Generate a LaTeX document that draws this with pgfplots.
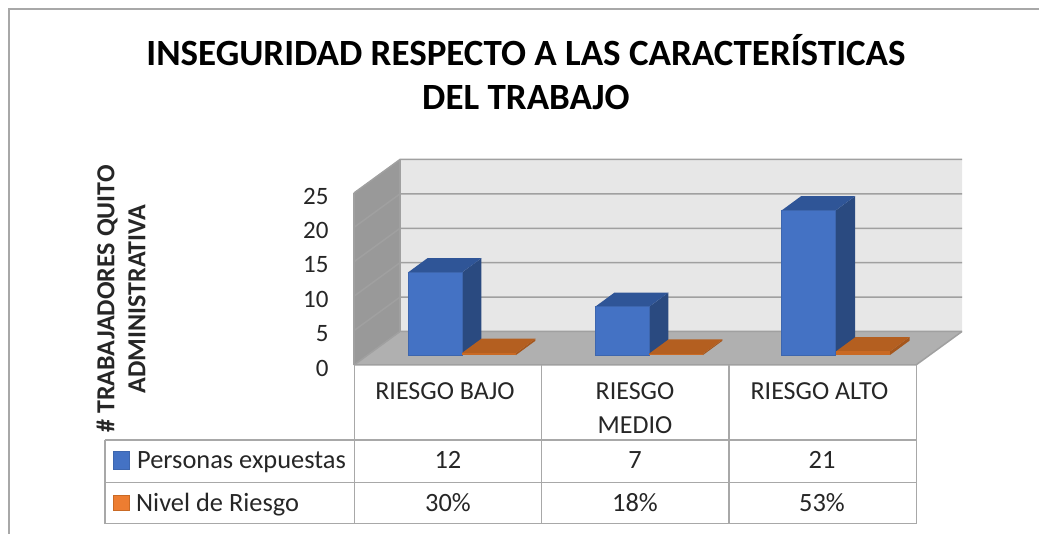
\documentclass[border=0pt]{standalone}
\usepackage{pgfplots}
\pgfplotsset{compat=1.18}
\usepackage{fontspec}
\setmainfont{Carlito}
\definecolor{wall}{HTML}{E7E7E7}
\definecolor{leftwall}{HTML}{999999}
\definecolor{floorc}{HTML}{B0B0B0}
\definecolor{gridc}{HTML}{A0A0A0}
\definecolor{bluef}{HTML}{4472C4}
\definecolor{bluee}{HTML}{3D66AE}
\definecolor{bluet}{HTML}{2F5597}
\definecolor{blues}{HTML}{2A4A80}
\definecolor{orf}{HTML}{C96A25}
\definecolor{ort}{HTML}{B45F20}
\definecolor{ors}{HTML}{A5561C}
\definecolor{orkey}{HTML}{ED7D31}
\definecolor{tline}{HTML}{A8A8A8}
\definecolor{txt}{HTML}{262626}
\newcommand\fs[1]{\fontsize{#1pt}{#1pt}\selectfont}
\begin{document}
\begin{tikzpicture}[x=1pt,y=1pt]
\useasboundingbox (-354,-169) rectangle (685,365);
\begin{axis}[
  at={(0,0)},anchor=south west,
  scale only axis,width=562pt,height=172pt,
  xmin=354,xmax=916,ymin=0,ymax=25,clip=false,
  axis line style={draw=none},major tick length=0pt,
  axis x line*=bottom,axis y line*=left,
  xtick={445,635,819.5},
  xticklabels={RIESGO BAJO,RIESGO\\[8pt]MEDIO,RIESGO ALTO},
  xticklabel style={align=center,font=\fs{26}\color{txt},anchor=north,yshift=-14pt},
  ytick={0,5,10,15,20,25},
  yticklabel style={font=\fs{25}\color{txt},anchor=east,xshift=-22pt,yshift=-3pt},
  /pgf/number format/assume math mode=true,
  title={INSEGURIDAD RESPECTO A LAS CARACTERÍSTICAS\\[7pt]DEL TRABAJO},
  title style={at={(axis cs:526,35.65)},anchor=south,align=center,font=\fs{37}\bfseries\color{black}},
  ylabel={\# TRABAJADORES QUITO\\[5pt]ADMINISTRATIVA},
  ylabel style={at={(axis cs:121,9.6)},anchor=center,align=center,font=\fs{26}\bfseries\color{txt}},
]
% outer frame
\draw[color=tline,line width=1.2pt] (axis cs:9,-24.56) -- (axis cs:9,51.74) -- (axis cs:1039,51.74);
% walls
\addplot[fill=wall,draw=none] coordinates {(400,4.87)(962,4.87)(962,29.87)(400,29.87)(400,4.87)};
\addplot[fill=leftwall,draw=none] coordinates {(354,0)(400,4.87)(400,29.87)(354,25)(354,0)};
\addplot[fill=floorc,draw=none] coordinates {(354,0)(916,0)(962,4.87)(400,4.87)(354,0)};
% gridlines
\addplot[color=gridc,line width=1.5pt] coordinates {(354,0)(400,4.87)(962,4.87)};
\addplot[color=gridc,line width=1.5pt] coordinates {(354,5)(400,9.87)(962,9.87)};
\addplot[color=gridc,line width=1.5pt] coordinates {(354,10)(400,14.87)(962,14.87)};
\addplot[color=gridc,line width=1.5pt] coordinates {(354,15)(400,19.87)(962,19.87)};
\addplot[color=gridc,line width=1.5pt] coordinates {(354,20)(400,24.87)(962,24.87)};
\addplot[color=gridc,line width=1.5pt] coordinates {(354,25)(400,29.87)(962,29.87)};
\addplot[color=gridc,line width=1.5pt] coordinates {(354,0)(354,25)};
\addplot[color=gridc,line width=1.5pt] coordinates {(400,4.87)(400,29.87)};
\addplot[color=gridc,line width=1.5pt] coordinates {(354,0)(916,0)(962,4.87)};
% series 1, category 1
\addplot[fill=blues,draw=none] coordinates {(462,1.45)(481.5,3.53)(481.5,15.53)(462,13.45)(462,1.45)};
\addplot[fill=bluet,draw=none] coordinates {(408,13.45)(462,13.45)(481.5,15.53)(427.5,15.53)(408,13.45)};
\addplot[ybar,bar width=54pt,fill=bluef,draw=bluee,line width=.8pt,yshift=10pt] coordinates {(435,12)};
% series 2, category 1
\addplot[fill=ors,draw=none] coordinates {(516,1.45)(535.5,3.53)(535.5,3.83)(516,1.75)(516,1.45)};
\addplot[fill=ort,draw=none] coordinates {(462,1.75)(516,1.75)(535.5,3.83)(481.5,3.83)(462,1.75)};
\addplot[ybar,bar width=54pt,fill=orf,draw=none,yshift=10pt] coordinates {(489,0.30)};
% series 1, category 2
\addplot[fill=blues,draw=none] coordinates {(649,1.45)(668.5,3.53)(668.5,10.53)(649,8.45)(649,1.45)};
\addplot[fill=bluet,draw=none] coordinates {(595,8.45)(649,8.45)(668.5,10.53)(614.5,10.53)(595,8.45)};
\addplot[ybar,bar width=54pt,fill=bluef,draw=bluee,line width=.8pt,yshift=10pt] coordinates {(622,7)};
% series 2, category 2
\addplot[fill=ors,draw=none] coordinates {(703,1.45)(722.5,3.53)(722.5,3.71)(703,1.63)(703,1.45)};
\addplot[fill=ort,draw=none] coordinates {(649,1.63)(703,1.63)(722.5,3.71)(668.5,3.71)(649,1.63)};
\addplot[ybar,bar width=54pt,fill=orf,draw=none,yshift=10pt] coordinates {(676,0.18)};
% series 1, category 3
\addplot[fill=blues,draw=none] coordinates {(835.5,1.45)(855,3.53)(855,24.53)(835.5,22.45)(835.5,1.45)};
\addplot[fill=bluet,draw=none] coordinates {(781.5,22.45)(835.5,22.45)(855,24.53)(801,24.53)(781.5,22.45)};
\addplot[ybar,bar width=54pt,fill=bluef,draw=bluee,line width=.8pt,yshift=10pt] coordinates {(808.5,21)};
% series 2, category 3
\addplot[fill=ors,draw=none] coordinates {(890,1.45)(909.5,3.53)(909.5,4.06)(890,1.98)(890,1.45)};
\addplot[fill=ort,draw=none] coordinates {(836,1.98)(890,1.98)(909.5,4.06)(855.5,4.06)(836,1.98)};
\addplot[ybar,bar width=54pt,fill=orf,draw=none,yshift=10pt] coordinates {(863,0.53)};
% data table
\draw[color=tline,line width=1.2pt]
  (axis cs:105,-10.9) -- (axis cs:917,-10.9)
  (axis cs:105,-17.05) -- (axis cs:917,-17.05)
  (axis cs:105,-23.07) -- (axis cs:917,-23.07)
  (axis cs:105,-10.9) -- (axis cs:105,-23.07)
  (axis cs:354.5,0) -- (axis cs:354.5,-23.07)
  (axis cs:541.5,0) -- (axis cs:541.5,-23.07)
  (axis cs:729,0) -- (axis cs:729,-23.07)
  (axis cs:916.5,0) -- (axis cs:916.5,-23.07);
\fill[bluef,draw=bluee] (axis cs:113.5,-12.6) rectangle (axis cs:129.5,-15.1);
\fill[orkey,draw=orf] (axis cs:113.5,-18.9) rectangle (axis cs:129.5,-21.1);
\tikzset{cell/.style={font=\fs{26.4}\color{txt},anchor=base,inner sep=0pt}}
\node[cell,anchor=base west] at (axis cs:137,-15.05) {Personas expuestas};
\node[cell,anchor=base west] at (axis cs:136,-21.25) {Nivel de Riesgo};
\node[cell] at (axis cs:448,-15.05) {12};
\node[cell] at (axis cs:635,-15.05) {7};
\node[cell] at (axis cs:822,-15.05) {21};
\node[cell] at (axis cs:448,-21.25) {30\%};
\node[cell] at (axis cs:635,-21.25) {18\%};
\node[cell] at (axis cs:822,-21.25) {53\%};
\end{axis}
\end{tikzpicture}
\end{document}
